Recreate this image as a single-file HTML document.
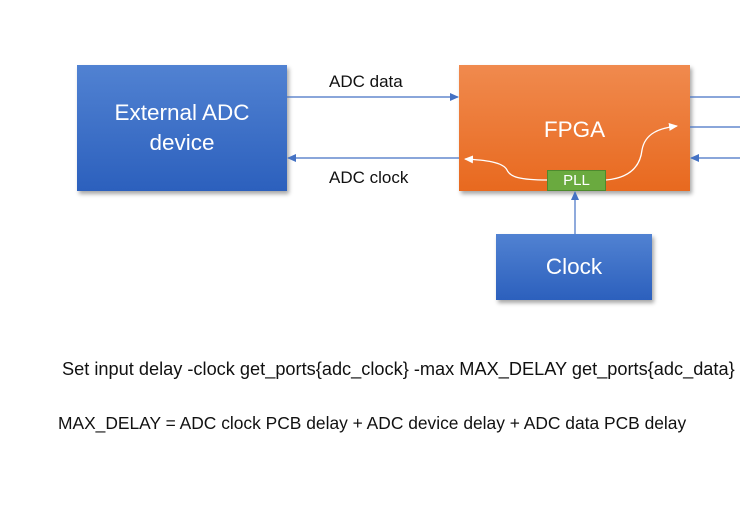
<!DOCTYPE html>
<html><head><meta charset="utf-8"><style>
body{margin:0;width:740px;height:531px;background:#fff;overflow:hidden;position:relative;font-family:"Liberation Sans",sans-serif}
.box{position:absolute;color:#fff;display:flex;align-items:center;justify-content:center;text-align:center;box-shadow:2px 3px 4px rgba(0,0,0,0.35)}
.blue{background:linear-gradient(#5182d2,#2c60bd)}
.t{position:absolute;color:#111;white-space:nowrap}
</style></head><body>
<div class="box blue" style="left:77px;top:65px;width:210px;height:126px;font-size:22.5px;line-height:30px">External ADC<br>device</div>
<div class="box" style="left:459px;top:65px;width:231px;height:126px;background:linear-gradient(#f08a4e,#e8691f);font-size:22.5px;padding-top:4px;box-sizing:border-box">FPGA</div>
<div class="box blue" style="left:496px;top:234px;width:156px;height:66px;font-size:22.5px">Clock</div>
<div class="box" style="left:547px;top:170px;width:59px;height:21px;background:#6aaa3f;border:1px solid #4d8a2e;box-sizing:border-box;font-size:15px;box-shadow:none">PLL</div>
<svg style="position:absolute;left:0;top:0" width="740" height="531">
<defs>
<marker id="a" markerWidth="10" markerHeight="10" refX="8" refY="5" orient="auto" markerUnits="userSpaceOnUse"><path d="M0,1 L9,5 L0,9 Z" fill="#4472c4"/></marker>
<marker id="w" markerWidth="10" markerHeight="10" refX="8" refY="5" orient="auto" markerUnits="userSpaceOnUse"><path d="M0,1 L9,5 L0,9 Z" fill="#fff"/></marker>
</defs>
<g stroke="#4472c4" stroke-width="1.2" fill="none">
<line x1="287" y1="97" x2="458" y2="97" marker-end="url(#a)"/>
<line x1="459" y1="158" x2="288" y2="158" marker-end="url(#a)"/>
<line x1="690" y1="97" x2="740" y2="97"/>
<line x1="690" y1="127" x2="740" y2="127"/>
<line x1="740" y1="158" x2="691" y2="158" marker-end="url(#a)"/>
<line x1="575" y1="234" x2="575" y2="192" marker-end="url(#a)"/>
</g>
<g stroke="#fff" stroke-width="1.3" fill="none">
<path d="M547,180 C520,180 510,177 507,170 C503,162 485,160 465,159" marker-end="url(#w)"/>
<path d="M606,180 C628,178 640,168 642,150 C645,133 660,128 677,126" marker-end="url(#w)"/>
</g>
</svg>
<div class="t" style="left:329px;top:72px;font-size:17px">ADC data</div>
<div class="t" style="left:329px;top:168px;font-size:17px">ADC clock</div>
<div class="t" style="left:62px;top:359px;font-size:18.2px">Set input delay -clock get_ports{adc_clock} -max MAX_DELAY get_ports{adc_data}</div>
<div class="t" style="left:58px;top:413px;font-size:17.4px">MAX_DELAY = ADC clock PCB delay + ADC device delay + ADC data PCB delay</div>
</body></html>
